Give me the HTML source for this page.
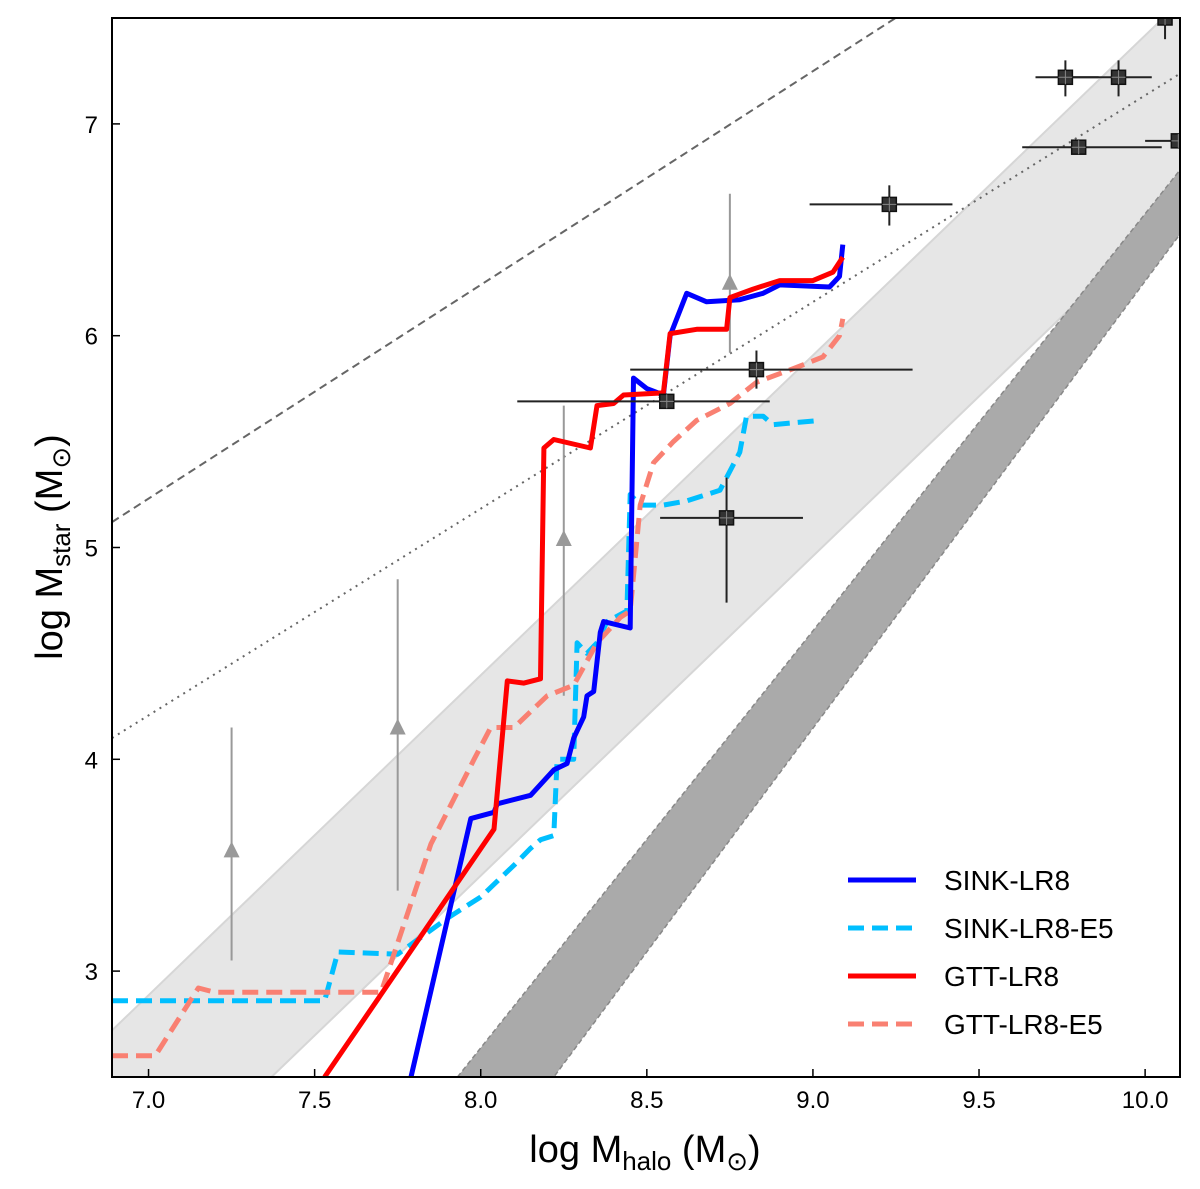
<!DOCTYPE html>
<html><head><meta charset="utf-8"><style>
body{margin:0;background:#fff;}
svg text{font-family:"Liberation Sans",sans-serif;}
</style></head><body>
<svg id="chart" width="1200" height="1184" xmlns="http://www.w3.org/2000/svg">
<defs><clipPath id="clip"><rect x="112" y="18" width="1068" height="1059"/></clipPath></defs>
<g id="plot" clip-path="url(#clip)"></g>
<g id="axes"></g>
</svg>
<script>
const xTicks=[7.0,7.5,8.0,8.5,9.0,9.5,10.0];
const xTickLabels=["7.0","7.5","8.0","8.5","9.0","9.5","10.0"];
const yTicks=[3,4,5,6,7];
const yTickLabels=["3","4","5","6","7"];
const sinkX=[7.79,7.97,8.04,8.05,8.15,8.22,8.26,8.28,8.31,8.32,8.34,8.36,8.37,8.45,8.46,8.5,8.55,8.57,8.62,8.68,8.78,8.85,8.9,9.05,9.08,9.09];
const sinkY=[2.5,3.72,3.75,3.79,3.83,3.95,3.98,4.1,4.2,4.3,4.32,4.6,4.65,4.62,5.8,5.75,5.72,6.0,6.2,6.16,6.17,6.2,6.24,6.23,6.28,6.43];
const gttX=[7.53,8.04,8.08,8.13,8.18,8.19,8.22,8.33,8.35,8.4,8.43,8.55,8.57,8.65,8.74,8.75,8.82,8.9,9.0,9.06,9.09];
const gttY=[2.5,3.67,4.37,4.36,4.38,5.47,5.51,5.47,5.67,5.68,5.72,5.73,6.01,6.03,6.03,6.18,6.22,6.26,6.26,6.3,6.37];
const sinkE5X=[6.89,7.53,7.57,7.75,7.9,8.0,8.1,8.15,8.18,8.22,8.23,8.28,8.29,8.32,8.35,8.38,8.44,8.45,8.48,8.55,8.62,8.72,8.78,8.8,8.85,8.88,9.02];
const sinkE5Y=[2.86,2.86,3.09,3.08,3.25,3.35,3.5,3.58,3.62,3.64,4.0,4.0,4.55,4.5,4.55,4.65,4.7,5.25,5.2,5.2,5.22,5.27,5.45,5.62,5.62,5.58,5.6];
const gttE5X=[6.89,7.02,7.15,7.2,7.7,7.85,7.98,8.03,8.1,8.2,8.28,8.35,8.42,8.45,8.48,8.52,8.58,8.65,8.75,8.83,8.95,9.03,9.08,9.09];
const gttE5Y=[2.6,2.6,2.92,2.9,2.9,3.6,4.0,4.15,4.15,4.3,4.35,4.55,4.67,4.7,5.2,5.4,5.5,5.6,5.68,5.78,5.85,5.9,6.0,6.08];
const triX=[7.25,7.75,8.25,8.75];
const triY=[3.57,4.15,5.04,6.25];
const triLo=[3.05,3.38,4.3,5.92];
const triHi=[4.15,4.85,5.67,6.67];
const sqX=[8.56,8.83,8.74,9.23,9.80,9.76,9.92,10.1,10.06];
const sqY=[5.69,5.84,5.14,6.62,6.89,7.22,7.22,6.92,7.5];
const sqXLo=[8.11,8.45,8.54,8.99,9.63,9.67,9.78,10.0,10.06];
const sqXHi=[8.87,9.3,8.97,9.42,10.05,9.86,10.02,10.2,10.06];
const sqYLo=[5.69,5.75,4.74,6.52,6.89,7.13,7.13,6.92,7.4];
const sqYHi=[5.69,5.93,5.33,6.71,6.89,7.3,7.3,6.92,7.6];

const X0=112,X1=1180,Y0=1077,Y1=18,xmin=6.89,xmax=10.105,ymin=2.5,ymax=7.5;
const sx=v=>X0+(v-xmin)/(xmax-xmin)*(X1-X0);
const sy=v=>Y0-(v-ymin)/(ymax-ymin)*(Y0-Y1);
const NS="http://www.w3.org/2000/svg";
const plot=document.getElementById('plot'),axes=document.getElementById('axes');
function mk(t,a,p){const e=document.createElementNS(NS,t);for(const k in a)e.setAttribute(k,a[k]);(p||plot).appendChild(e);return e;}
const poly=pts=>pts.map(p=>sx(p[0]).toFixed(1)+','+sy(p[1]).toFixed(1)).join(' ');

let e;
e=mk('polygon',{points:poly([[6.89,2.72],[10.2,7.72],[10.2,6.77],[7.37,2.5],[6.89,2.5]]),fill:'#e6e6e6',stroke:'#d6d6d6','stroke-width':2});


e=mk('polygon',{points:poly([[7.93,2.5],[10.2,6.97],[10.2,6.68],[8.22,2.5]]),fill:'#aaaaaa',stroke:'#888','stroke-width':1.5,'stroke-dasharray':'5,3'});


e=mk('polyline',{points:poly([[6.89,5.12],[10.2,8.46]]),fill:'none',stroke:'#666','stroke-width':2,'stroke-dasharray':'8,5'});


e=mk('polyline',{points:poly([[6.89,4.1],[10.2,7.33]]),fill:'none',stroke:'#666','stroke-width':2,'stroke-dasharray':'2,5'});


for(let i=0;i<triX.length;i++){
 const g=mk('g',{});
 
 
 mk('line',{x1:sx(triX[i]),x2:sx(triX[i]),y1:sy(triLo[i]),y2:sy(triHi[i]),stroke:'#999','stroke-width':2},g);
 const cx=sx(triX[i]),cy=sy(triY[i]);
 mk('polygon',{points:`${cx-8},${cy+7} ${cx+8},${cy+7} ${cx},${cy-9}`,fill:'#999'},g);
}
function series(xs,ys,col,dash,name){
 const pts=xs.map((x,i)=>[x,ys[i]]);
 const a={points:poly(pts),fill:'none',stroke:col,'stroke-width':5,'stroke-linejoin':'round'};
 if(dash)a['stroke-dasharray']='16,8';
 e=mk('polyline',a);
 
 
}
series(sinkE5X,sinkE5Y,'#00bfff',true,'series-sink-lr8-e5');
series(gttE5X,gttE5Y,'#f98072',true,'series-gtt-lr8-e5');
series(sinkX,sinkY,'#0000ff',false,'series-sink-lr8');
series(gttX,gttY,'#ff0000',false,'series-gtt-lr8');
for(let i=0;i<sqX.length;i++){
 const g=mk('g',{});
 
 
 const cx=sx(sqX[i]),cy=sy(sqY[i]);
 mk('line',{x1:sx(sqXLo[i]),x2:sx(sqXHi[i]),y1:cy,y2:cy,stroke:'#222','stroke-width':2},g);
 mk('line',{x1:cx,x2:cx,y1:sy(sqYLo[i]),y2:sy(sqYHi[i]),stroke:'#222','stroke-width':2},g);
 mk('rect',{x:cx-7,y:cy-7,width:14,height:14,fill:'#333',stroke:'#111','stroke-width':1.5},g);
 mk('path',{d:`M${cx-7} ${cy}H${cx+7}M${cx} ${cy-7}V${cy+7}`,stroke:'#888','stroke-width':1},g);
}
e=mk('rect',{x:X0,y:Y1,width:X1-X0,height:Y0-Y1,fill:'none',stroke:'#000','stroke-width':2},axes);


xTicks.forEach((t,i)=>{
 const x=sx(t);
 e=mk('line',{x1:x,x2:x,y1:Y0,y2:Y0-8,stroke:'#000','stroke-width':1.5},axes);
 
 
 e=mk('text',{x:x,y:Y0+31,'text-anchor':'middle','font-size':24},axes);e.textContent=xTickLabels[i];
 
 
});
yTicks.forEach((t,i)=>{
 const y=sy(t);
 e=mk('line',{x1:X0,x2:X0+8,y1:y,y2:y,stroke:'#000','stroke-width':1.5},axes);
 
 
 e=mk('text',{x:X0-14,y:y+9,'text-anchor':'end','font-size':24},axes);e.textContent=yTickLabels[i];
 
 
});
e=mk('text',{x:645,y:1162,'text-anchor':'middle','font-size':38},axes);
e.innerHTML='log M<tspan font-size="26" dy="8">halo</tspan><tspan dy="-8"> (M</tspan><tspan font-size="26" dy="8">⊙</tspan><tspan dy="-8">)</tspan>';


e=mk('text',{x:0,y:0,'text-anchor':'middle','font-size':38,transform:'translate(62,547) rotate(-90)'},axes);
e.innerHTML='log M<tspan font-size="26" dy="8">star</tspan><tspan dy="-8"> (M</tspan><tspan font-size="26" dy="8">⊙</tspan><tspan dy="-8">)</tspan>';


const legNames=['SINK-LR8','SINK-LR8-E5','GTT-LR8','GTT-LR8-E5'];
const legCols=['#0000ff','#00bfff','#ff0000','#f98072'];
const legDash=[false,true,false,true];
legNames.forEach((n,i)=>{
 const y=880+i*48;
 const g=mk('g',{},axes);
 
 
 const a={x1:848,x2:916,y1:y,y2:y,stroke:legCols[i],'stroke-width':5};
 if(legDash[i])a['stroke-dasharray']='16,8';
 mk('line',a,g);
 const t=mk('text',{x:944,y:y+10,'font-size':28},g);t.textContent=n;
});
</script>
</body></html>
